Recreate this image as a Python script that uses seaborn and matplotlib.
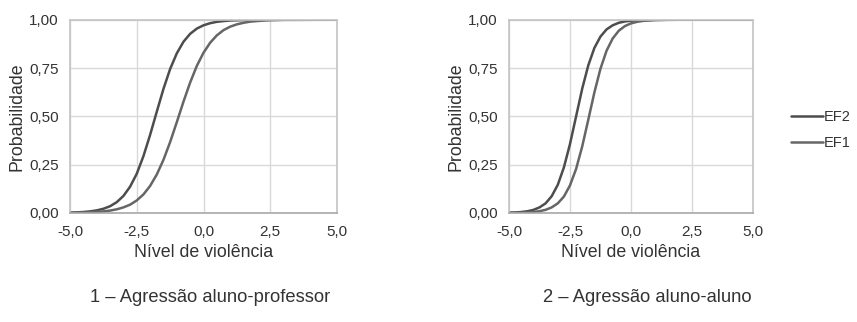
import numpy as np
import pandas as pd
import matplotlib
matplotlib.use("Agg")
import matplotlib.pyplot as plt
from matplotlib.ticker import FuncFormatter
import seaborn as sns

# ---- data ----
series_names = ["EF2", "EF1"]
panel_titles = ["1 – Agressão aluno-professor", "2 – Agressão aluno-aluno"]

p1_ef2_x = [-5.0, -4.75, -4.5, -4.25, -4.0, -3.75, -3.5, -3.25, -3.0, -2.75, -2.5, -2.25, -2.0,
            -1.75, -1.5, -1.25, -1.0, -0.75, -0.5, -0.25, 0.0, 0.25, 0.5, 0.75, 1.0, 1.5, 2.0, 2.5, 5.0]
p1_ef2_y = [0.0019, 0.0032, 0.0051, 0.0083, 0.0135, 0.0219, 0.035, 0.056, 0.088, 0.136, 0.203, 0.294, 0.404,
            0.524, 0.642, 0.745, 0.826, 0.886, 0.927, 0.954, 0.971, 0.982, 0.989, 0.993, 0.996, 0.998, 0.999, 1.0, 1.0]

p1_ef1_x = [-5.0, -4.5, -4.0, -3.75, -3.5, -3.25, -3.0, -2.75, -2.5, -2.25, -2.0, -1.75, -1.5, -1.25,
            -1.0, -0.75, -0.5, -0.25, 0.0, 0.25, 0.5, 0.75, 1.0, 1.25, 1.5, 1.75, 2.0, 2.25, 2.5, 3.0, 5.0]
p1_ef1_y = [0.0010, 0.0023, 0.0054, 0.0082, 0.0125, 0.019, 0.029, 0.043, 0.065, 0.096, 0.140, 0.199, 0.275, 0.367,
            0.470, 0.576, 0.675, 0.761, 0.829, 0.881, 0.919, 0.946, 0.964, 0.976, 0.984, 0.990, 0.993, 0.9955, 0.997, 0.999, 1.0]

p2_ef2_x = [-5.0, -4.75, -4.5, -4.25, -4.0, -3.75, -3.5, -3.25, -3.0, -2.75, -2.5, -2.25, -2.0,
            -1.75, -1.5, -1.25, -1.0, -0.75, -0.5, -0.25, 0.0, 0.5, 1.0, 2.5, 5.0]
p2_ef2_y = [0.0016, 0.0028, 0.0050, 0.0090, 0.016, 0.029, 0.050, 0.087, 0.146, 0.236, 0.357, 0.5, 0.643,
            0.764, 0.854, 0.913, 0.950, 0.971, 0.984, 0.991, 0.995, 0.998, 0.9993, 1.0, 1.0]

p2_ef1_x = [-5.0, -4.5, -4.25, -4.0, -3.75, -3.5, -3.25, -3.0, -2.75, -2.5, -2.25, -2.0, -1.75,
            -1.5, -1.25, -1.0, -0.75, -0.5, -0.25, 0.0, 0.25, 0.5, 1.0, 1.5, 2.5, 5.0]
p2_ef1_y = [0.0005, 0.0017, 0.0030, 0.0053, 0.0093, 0.0164, 0.029, 0.050, 0.085, 0.143, 0.228, 0.344, 0.483,
            0.624, 0.747, 0.840, 0.903, 0.943, 0.967, 0.981, 0.989, 0.994, 0.998, 0.9995, 1.0, 1.0]

x_ticks = [-5.0, -2.5, 0.0, 2.5, 5.0]
y_ticks = [0.0, 0.25, 0.5, 0.75, 1.0]

# ---- build long tables ----
def make_df(ef2x, ef2y, ef1x, ef1y):
    a = pd.DataFrame({"x": ef2x, "y": ef2y, "serie": "EF2"})
    b = pd.DataFrame({"x": ef1x, "y": ef1y, "serie": "EF1"})
    return pd.concat([a, b], ignore_index=True)

dfs = [make_df(p1_ef2_x, p1_ef2_y, p1_ef1_x, p1_ef1_y),
       make_df(p2_ef2_x, p2_ef2_y, p2_ef1_x, p2_ef1_y)]

sns.set_theme(style="whitegrid")
plt.rcParams["font.family"] = ["Liberation Sans", "DejaVu Sans"]

palette = {"EF2": "#4d4d4d", "EF1": "#666666"}

fig = plt.figure(figsize=(8.57, 3.22), dpi=100)
ax1 = fig.add_axes([70 / 857, 1 - 213 / 322, 267 / 857, 193.3 / 322])
ax2 = fig.add_axes([509 / 857, 1 - 213 / 322, 244 / 857, 193.3 / 322])

fmt_x = FuncFormatter(lambda v, p: f"{v:.1f}".replace(".", ","))
fmt_y = FuncFormatter(lambda v, p: f"{v:.2f}".replace(".", ","))

for i, (ax, df) in enumerate(zip([ax1, ax2], dfs)):
    sns.lineplot(data=df, x="x", y="y", hue="serie", hue_order=series_names,
                 palette=palette, linewidth=1.8, ax=ax, legend=(i == 1), sort=True,
                 estimator=None)
    ax.set_xlim(-5, 5)
    ax.set_ylim(0, 1)
    ax.set_xticks(x_ticks)
    ax.set_yticks(y_ticks)
    ax.xaxis.set_major_formatter(fmt_x)
    ax.yaxis.set_major_formatter(fmt_y)
    ax.grid(True, color="#d9d9d9", linewidth=1.0)
    for s in ax.spines.values():
        s.set_color("#c4c4c4")
        s.set_linewidth(1.2)
    ax.spines["bottom"].set_color("#a8a8a8")
    ax.tick_params(axis="both", length=0, labelsize=11, colors="#333333")
    ax.tick_params(axis="x", pad=9)
    ax.tick_params(axis="y", pad=8)
    ax.set_xlabel("Nível de violência", fontsize=12.8, color="#333333", labelpad=3)
    ax.set_ylabel("Probabilidade", fontsize=12.8, color="#333333", labelpad=3)
    ax.set_facecolor("white")

leg = ax2.legend(loc="center left", bbox_to_anchor=(1.155, 0.43), frameon=False,
                 fontsize=10.5, handlelength=2.2, handletextpad=0.08, labelspacing=0.8,
                 borderpad=0, borderaxespad=0)
for t in leg.get_texts():
    t.set_color("#333333")

fig.text(210 / 857, 1 - 297 / 322, panel_titles[0], ha="center", va="center",
         fontsize=13.2, color="#333333")
fig.text(647 / 857, 1 - 297 / 322, panel_titles[1], ha="center", va="center",
         fontsize=13.2, color="#333333")

fig.savefig("out.png", dpi=100, facecolor="white")
